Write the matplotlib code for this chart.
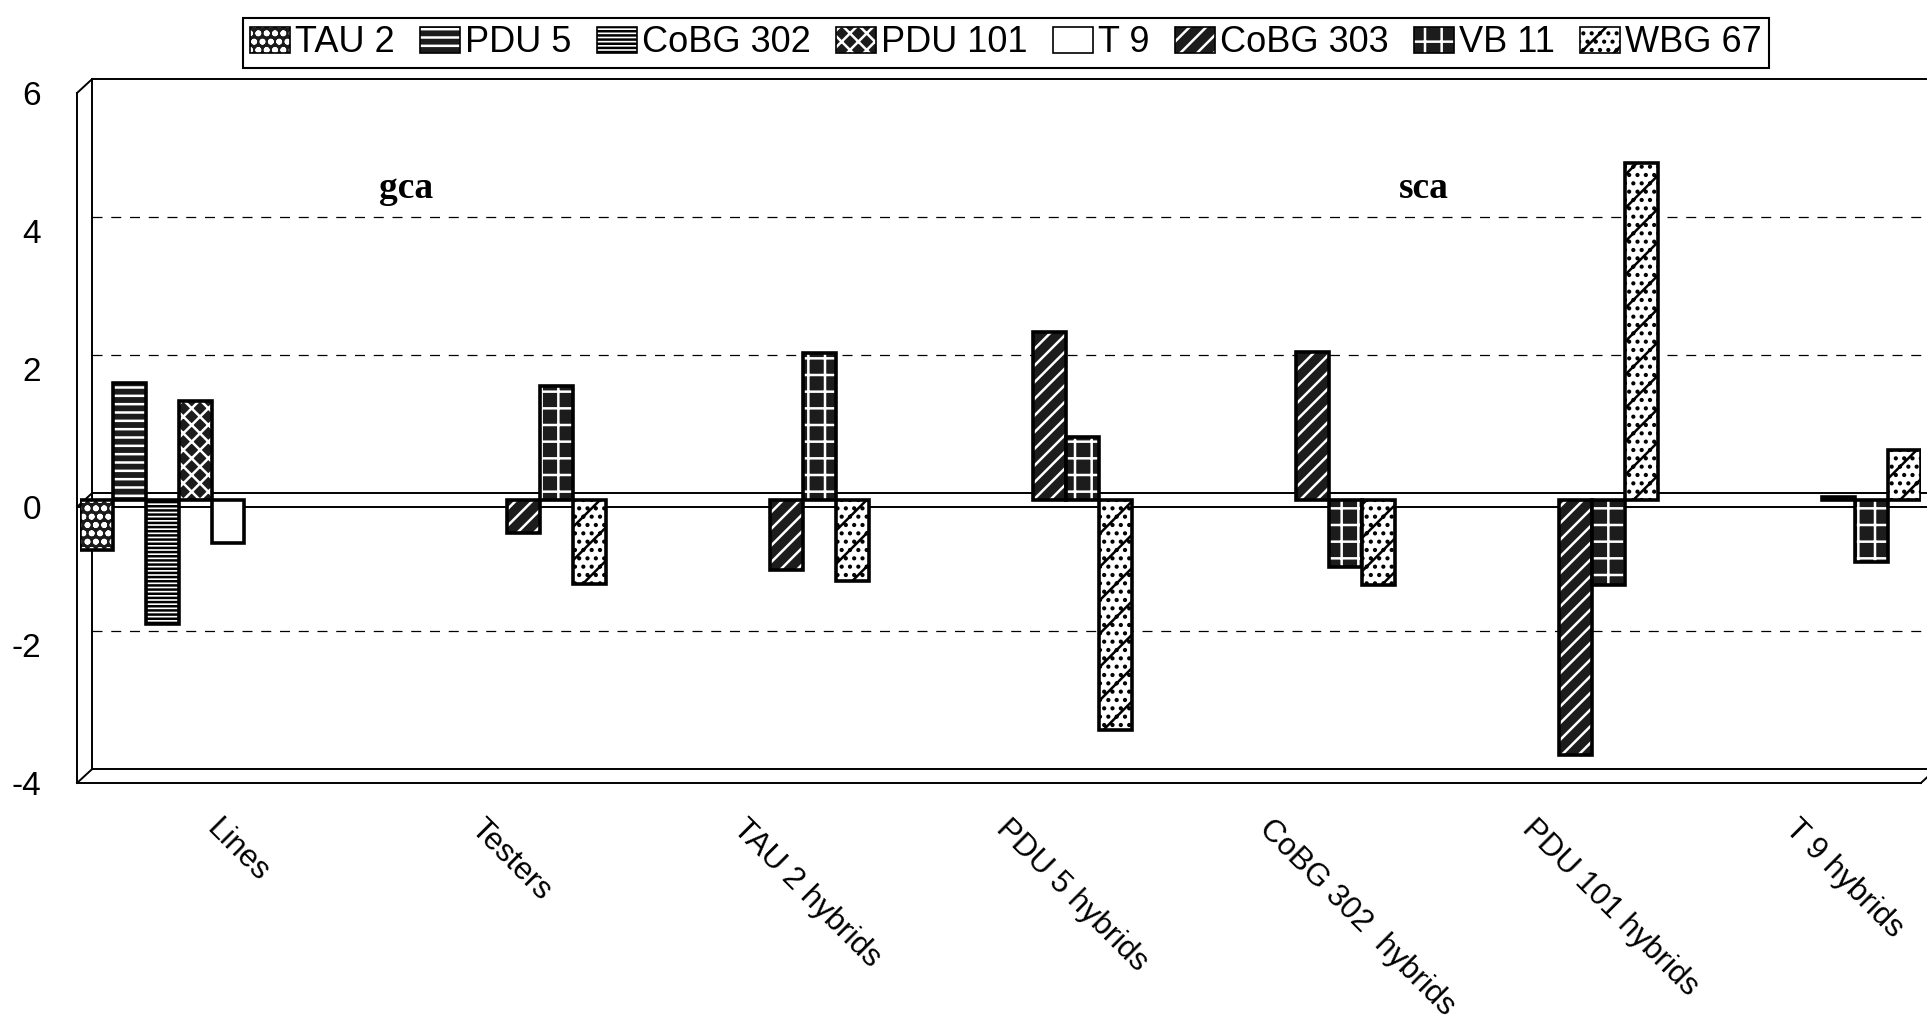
import matplotlib
matplotlib.use("Agg")
import matplotlib.pyplot as plt
import numpy as np
from matplotlib.patches import Patch

plt.rcParams["font.family"] = ["Liberation Sans", "DejaVu Sans"]
plt.rcParams["hatch.linewidth"] = 1.8

# category groups along the x axis
categories = ["Lines", "Testers", "TAU 2 hybrids", "PDU 5 hybrids",
              "CoBG 302  hybrids", "PDU 101 hybrids", "T 9 hybrids"]
series_names = ["TAU 2", "PDU 5", "CoBG 302", "PDU 101", "T 9",
                "CoBG 303", "VB 11", "WBG 67"]
ytick_values = [6, 4, 2, 0, -2, -4]

nan = np.nan
tau2 = [-0.73, nan, nan, nan, nan, nan, nan]
pdu5 = [1.70, nan, nan, nan, nan, nan, nan]
cobg302 = [-1.80, nan, nan, nan, nan, nan, nan]
pdu101 = [1.44, nan, nan, nan, nan, nan, nan]
t9 = [-0.62, nan, nan, nan, nan, nan, nan]
cobg303 = [nan, -0.48, -1.01, 2.43, 2.15, -3.70, 0.05]
vb11 = [nan, 1.65, 2.13, 0.91, -0.97, -1.23, -0.90]
wbg67 = [nan, -1.22, -1.17, -3.33, -1.23, 4.89, 0.73]

values = [tau2, pdu5, cobg302, pdu101, t9, cobg303, vb11, wbg67]

# (fill, hatch colour, hatch) for each series, black & white patterns
styles = [
    ("#1c1c1c", "white", "oo"),
    ("#1c1c1c", "white", "--"),
    ("white", "black", "----"),
    ("#1c1c1c", "white", "xx"),
    ("white", "black", ""),
    ("#1c1c1c", "white", "//"),
    ("#1c1c1c", "white", "+"),
    ("white", "black", "/.."),
]

W, H = 1927, 1025
left_px, right_px = 80, 1921
zero_px, ppu = 500, 69
ylo, yhi = -4.3, 6.2

fig = plt.figure(figsize=(W / 100, H / 100), dpi=100)
ax = fig.add_axes([left_px / W, 1 - (zero_px - ylo * ppu) / H,
                   (right_px - left_px) / W, (yhi - ylo) * ppu / H])
ax.set_xlim(-0.5, 6.5)
ax.set_ylim(ylo, yhi)
for s in ax.spines.values():
    s.set_visible(False)

# pseudo 3-D frame: back wall, left wall, floor and zero plane
dz = 0.1
xf, xb, xr = -0.511, -0.454, 6.62
line_kw = dict(color="black", lw=1.4, clip_on=False, zorder=2)
ax.plot([xb, xr], [6 + dz, 6 + dz], **line_kw)
ax.plot([xb, xb], [6 + dz, -4 + dz], **line_kw)
ax.plot([xf, xf], [6 - dz, -4 - dz], **line_kw)
ax.plot([xf, xb], [6 - dz, 6 + dz], **line_kw)
ax.plot([xb, xr], [-4 + dz, -4 + dz], **line_kw)
ax.plot([xf, 6.5], [-4 - dz, -4 - dz], **line_kw)
ax.plot([xf, xb], [-4 - dz, -4 + dz], **line_kw)
ax.plot([6.5, 6.557], [-4 - dz, -4 + dz], **line_kw)
ax.plot([xb, xr], [dz, dz], **line_kw)
ax.plot([xf, xr], [-dz, -dz], **line_kw)
ax.plot([xf, xb], [-dz, dz], **line_kw)

for g in [4, 2, -2]:
    ax.plot([xb, xr], [g + dz, g + dz], color="black", lw=0.9,
            ls=(0, (8, 7)), clip_on=False, zorder=1)

# clustered bars, three layers each: fill, hatch, outline
n = len(series_names)
width = 1 / n
xs = np.arange(len(categories))
handles = []
for j, (vals, (fc, hc, hatch)) in enumerate(zip(values, styles)):
    vals = np.asarray(vals, dtype=float)
    ok = ~np.isnan(vals)
    x = xs[ok] + (j - (n - 1) / 2) * width
    ax.bar(x, vals[ok], width, color=fc, edgecolor="none", zorder=3)
    if hatch:
        ax.bar(x, vals[ok], width, fill=False, edgecolor=hc, hatch=hatch,
               linewidth=0, zorder=3)
    ax.bar(x, vals[ok], width, fill=False, edgecolor="black",
           linewidth=2.6, zorder=3)
    handles.append((Patch(facecolor=fc, edgecolor="none"),
                    Patch(fill=False, edgecolor=hc, hatch=hatch, linewidth=0),
                    Patch(fill=False, edgecolor="black", linewidth=1.2)))

# y labels sit on the front edge of the box
ax.set_yticks([v - dz for v in ytick_values], [str(v) for v in ytick_values])
ax.tick_params(axis="y", length=0, pad=28, labelsize=24)
ax.set_xticks([])

for i, cat in enumerate(categories):
    ax.text(i + 0.04, -4.55, cat, rotation=-45, rotation_mode="anchor",
            ha="left", va="top", fontsize=22.5)

ax.text(0.74, 4.52, "gca", family="Liberation Serif", fontweight="bold",
        fontsize=27, ha="center", va="center")
ax.text(4.61, 4.52, "sca", family="Liberation Serif", fontweight="bold",
        fontsize=27, ha="center", va="center")

leg = fig.legend(handles, series_names, loc="center",
                 bbox_to_anchor=(1006 / W, 1 - 43 / H), ncol=n,
                 frameon=True, fancybox=False, edgecolor="black",
                 framealpha=1, fontsize=26, handlelength=1.1,
                 handleheight=0.75, handletextpad=0.15, columnspacing=0.7,
                 borderpad=0.2, borderaxespad=0)
leg.get_frame().set_linewidth(1.5)

fig.savefig("out.png", dpi=100)
